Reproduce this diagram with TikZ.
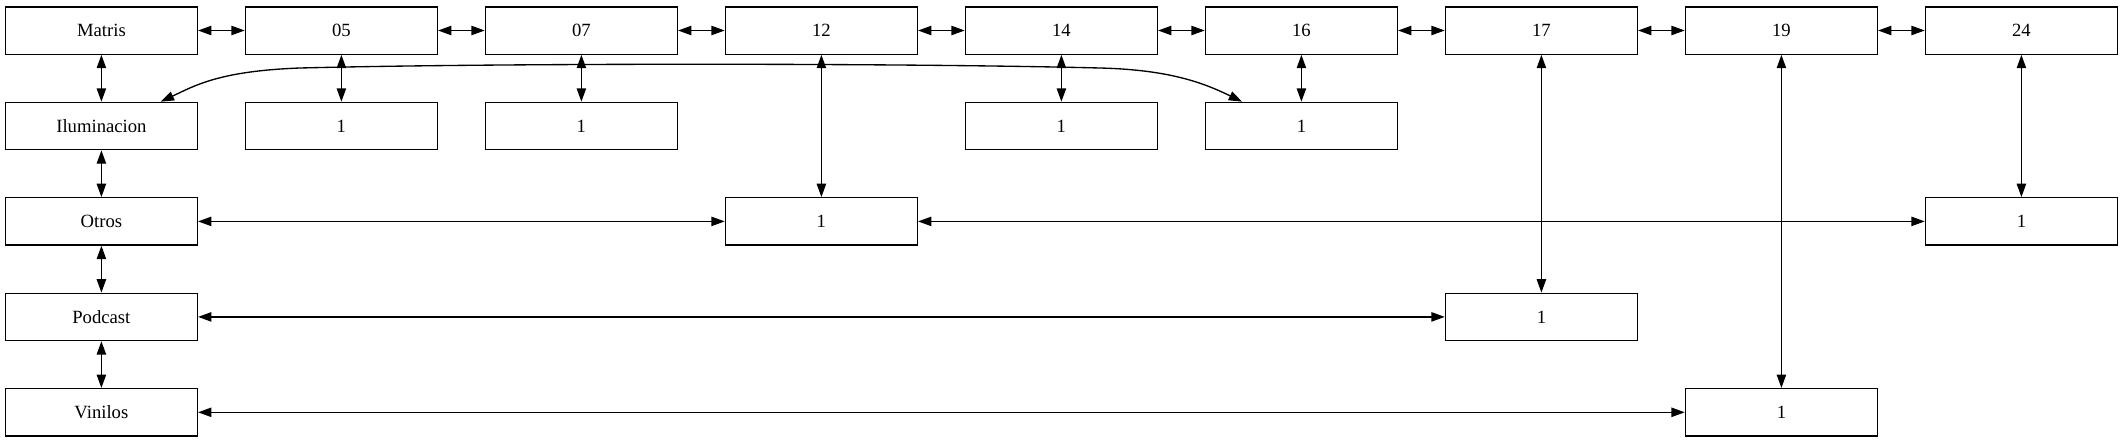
\documentclass[tikz,border=0pt]{standalone}
\usepackage{fontspec}
\setmainfont{Liberation Serif}
\usetikzlibrary{arrows.meta}

\begin{document}
\begin{tikzpicture}[x=0.75pt, y=-0.75pt, line width=1pt,
        box/.style={draw, rectangle, minimum width=144pt, minimum height=35.5pt, inner sep=0pt, font=\fontsize{14}{16}\selectfont},
        link/.style={{Triangle[length=10pt,width=7pt]}-{Triangle[length=10pt,width=7pt]}}]
        \useasboundingbox (0,0) rectangle (2123,443);

        % 第一行
        \node[box] (matris) at (101.4, 30.5) {Matris};
        \node[box] (m05) at (341.4, 30.5) {05};
        \node[box] (m07) at (581.4, 30.5) {07};
        \node[box] (m12) at (821.4, 30.5) {12};
        \node[box] (m14) at (1061.4, 30.5) {14};
        \node[box] (m16) at (1301.4, 30.5) {16};
        \node[box] (m17) at (1541.4, 30.5) {17};
        \node[box] (m19) at (1781.4, 30.5) {19};
        \node[box] (m24) at (2021.4, 30.5) {24};

        % 左列
        \node[box] (ilum) at (101.4, 126) {Iluminacion};
        \node[box] (otros) at (101.4, 221.4) {Otros};
        \node[box] (podcast) at (101.4, 316.9) {Podcast};
        \node[box] (vinilos) at (101.4, 412.3) {Vinilos};

        % 计数
        \node[box] (i05) at (341.4, 126) {1};
        \node[box] (i07) at (581.4, 126) {1};
        \node[box] (i14) at (1061.4, 126) {1};
        \node[box] (i16) at (1301.4, 126) {1};
        \node[box] (o12) at (821.4, 221.4) {1};
        \node[box] (o24) at (2021.4, 221.4) {1};
        \node[box] (p17) at (1541.4, 316.9) {1};
        \node[box] (v19) at (1781.4, 412.3) {1};

        % 横向连线
        \draw[link] (matris) -- (m05);
        \draw[link] (m05) -- (m07);
        \draw[link] (m07) -- (m12);
        \draw[link] (m12) -- (m14);
        \draw[link] (m14) -- (m16);
        \draw[link] (m16) -- (m17);
        \draw[link] (m17) -- (m19);
        \draw[link] (m19) -- (m24);
        \draw[link] (otros) -- (o12);
        \draw[link] (o12) -- (o24);
        \draw[link] (podcast) -- (p17);
        \draw[link] (vinilos) -- (v19);

        % 纵向连线
        \draw[link] (matris) -- (ilum);
        \draw[link] (ilum) -- (otros);
        \draw[link] (otros) -- (podcast);
        \draw[link] (podcast) -- (vinilos);
        \draw[link] (m05) -- (i05);
        \draw[link] (m07) -- (i07);
        \draw[link] (m14) -- (i14);
        \draw[link] (m16) -- (i16);
        \draw[link] (m12) -- (o12);
        \draw[link] (m24) -- (o24);
        \draw[link] (m17) -- (p17);
        \draw[link] (m19) -- (v19);

        % 曲线
        \draw[link] ([xshift=-28pt]ilum.north east) .. controls +(35,-16.5) and +(-80,3) .. (300,68)
            .. controls +(200,-5) and +(-200,-5) .. (1100,68)
            .. controls +(70,1.75) and +(-38,-18.5) .. ([xshift=28pt]i16.north west);
    \end{tikzpicture}
\end{document}
